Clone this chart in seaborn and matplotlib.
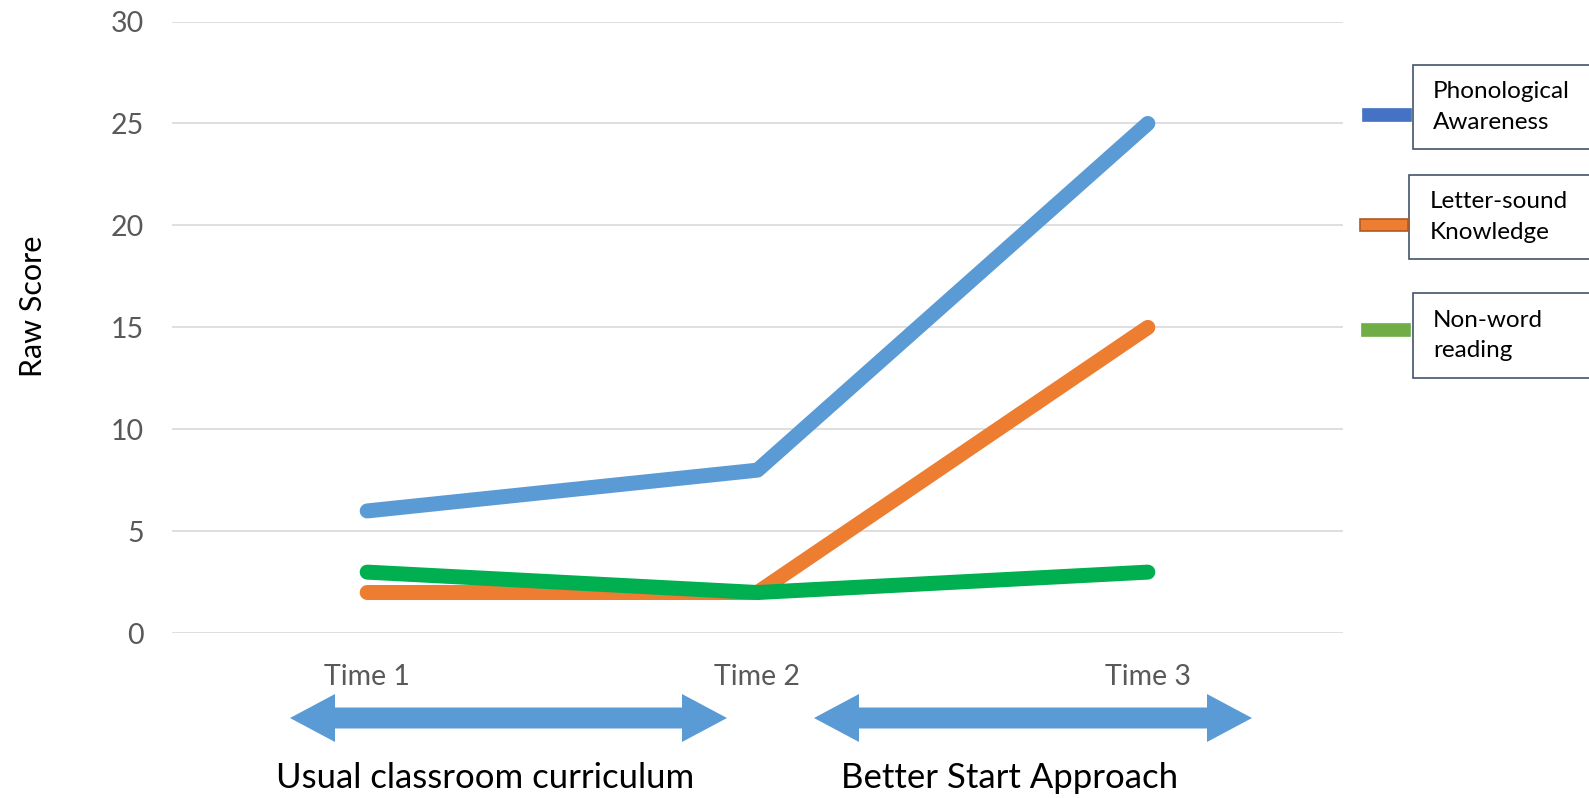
import matplotlib
matplotlib.use("Agg")
import matplotlib.pyplot as plt
from matplotlib.patches import Polygon, Rectangle
import seaborn as sns
import pandas as pd

# Scores at each assessment point
times = ["Time 1", "Time 2", "Time 3"]
phonological = [6, 8, 25]
letter_sound = [2, 2, 15]
nonword = [3, 2, 3]

series_names = ["Phonological\nAwareness", "Letter-sound\nKnowledge", "Non-word\nreading"]
line_colors = ["#5B9BD5", "#ED7D31", "#00B050"]
key_colors = ["#4472C4", "#ED7D31", "#70AD47"]
phase_labels = ["Usual classroom curriculum", "Better Start Approach"]

df = pd.DataFrame({
    "Time": times * 3,
    "Score": phonological + letter_sound + nonword,
    "Measure": [series_names[0]] * 3 + [series_names[1]] * 3 + [series_names[2]] * 3,
})

sns.set_theme(style="white")
plt.rcParams["font.family"] = ["Lato", "DejaVu Sans"]

W, H = 1589, 798
fig = plt.figure(figsize=(W / 100, H / 100), dpi=100)
ax = fig.add_axes([172 / W, 1 - 633.3 / H, (1343 - 172) / W, (633.3 - 21.5) / H])

sns.lineplot(data=df, x="Time", y="Score", hue="Measure", palette=line_colors,
             linewidth=10.8, sort=False, ax=ax, legend=False)
for ln in ax.get_lines():
    ln.set_solid_capstyle("round")
    ln.set_solid_joinstyle("round")

ax.set_xlim(-0.5, 2.5)
ax.set_ylim(0, 30)
ax.set_yticks(range(0, 31, 5))
ax.yaxis.grid(True, color="#D9D9D9", linewidth=1.2)
ax.set_axisbelow(True)
for s in ax.spines.values():
    s.set_visible(False)
ax.tick_params(axis="both", length=0, labelsize=20.5, labelcolor="#595959")
ax.tick_params(axis="y", pad=20)
ax.tick_params(axis="x", pad=22)
ax.set_xlabel("")
ax.set_ylabel("")

fig.text(33 / W, 1 - 306 / H, "Raw Score", rotation=90, ha="center", va="center",
         fontsize=22, color="black")


def px(x, y):
    return (x / W, 1 - y / H)


# Double-headed arrows marking the two teaching phases
def double_arrow(x0, x1, yc, shaft_h=21, head_h=48, head_len=45, color="#5B9BD5"):
    pts = [
        (x0, yc),
        (x0 + head_len, yc - head_h / 2),
        (x0 + head_len, yc - shaft_h / 2),
        (x1 - head_len, yc - shaft_h / 2),
        (x1 - head_len, yc - head_h / 2),
        (x1, yc),
        (x1 - head_len, yc + head_h / 2),
        (x1 - head_len, yc + shaft_h / 2),
        (x0 + head_len, yc + shaft_h / 2),
        (x0 + head_len, yc + head_h / 2),
    ]
    fig.patches.append(Polygon([px(*p) for p in pts], closed=True, facecolor=color,
                               edgecolor="none", transform=fig.transFigure))


double_arrow(290, 727, 718)
double_arrow(814, 1252, 718)
fig.text(*px(485, 778), phase_labels[0], ha="center", va="center", fontsize=25, color="black")
fig.text(*px(1010, 778), phase_labels[1], ha="center", va="center", fontsize=25, color="black")

# Legend: colour keys with boxed labels
boxes = [(1413, 65, 149), (1409, 175, 259), (1413, 293, 378)]
keys = [(1363, 1411, 115), (1360, 1408, 225), (1362, 1410, 330)]
text_x = [1433, 1430, 1433]
key_edges = [key_colors[0], "#AE5A21", key_colors[2]]
for i in range(3):
    bx, bt, bb = boxes[i]
    fig.patches.append(Rectangle(px(bx, bb), (W + 20 - bx) / W, (bb - bt) / H,
                                 facecolor="white", edgecolor="#44546A", linewidth=1.2,
                                 transform=fig.transFigure))
    kx0, kx1, ky = keys[i]
    fig.patches.append(Rectangle(px(kx0, ky + 6), (kx1 - kx0) / W, 12 / H,
                                 facecolor=key_colors[i], edgecolor=key_edges[i],
                                 linewidth=1.2, transform=fig.transFigure))
    fig.text(*px(text_x[i], (bt + bb) / 2), series_names[i], ha="left", va="center",
             fontsize=17.5, color="black", linespacing=1.55)

fig.savefig("out.png", dpi=100)
